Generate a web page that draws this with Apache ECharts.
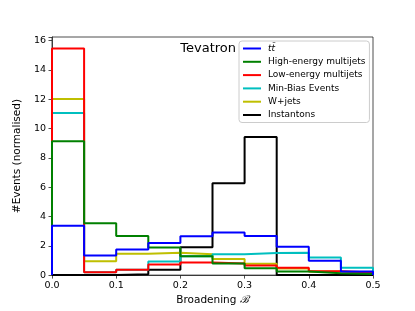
<!DOCTYPE html>
<html>
<head>
<meta charset="utf-8">
<script src="https://cdn.jsdelivr.net/npm/echarts@6/dist/echarts.min.js"></script>
<style>
html,body{margin:0;padding:0;background:#fff;}
#chart{width:415px;height:311px;}
</style>
</head>
<body>
<div id="chart"></div>
<script>
// Bin edges of the histogram (Broadening B)
const binEdges = [0.0, 0.05, 0.1, 0.15, 0.2, 0.25, 0.3, 0.35, 0.4, 0.45, 0.5];
// Series names (legend order)
const seriesNames = ['tt\u0304', 'High-energy multijets', 'Low-energy multijets', 'Min-Bias Events', 'W+jets', 'Instantons'];
// Normalised event counts per bin
const ttbar       = [3.37, 1.33, 1.75, 2.19, 2.65, 2.90, 2.67, 1.93, 0.98, 0.25];
const highEnergy  = [9.14, 3.54, 2.67, 1.88, 1.28, 0.80, 0.47, 0.24, 0.12, 0.08];
const lowEnergy   = [15.47, 0.20, 0.37, 0.72, 0.86, 0.80, 0.66, 0.50, 0.27, 0.18];
const minBias     = [11.07, 0.20, 0.37, 0.92, 1.28, 1.42, 1.50, 1.53, 1.20, 0.50];
const wJets       = [12.02, 0.94, 1.45, 1.53, 1.42, 1.10, 0.77, 0.45, 0.25, 0.15];
const instantons  = [0, 0, 0.05, 0.37, 1.90, 6.27, 9.43, 0, 0, 0];
// tick labels
const yTicks = [0, 2, 4, 6, 8, 10, 12, 14, 16];
const xTicks = [0.0, 0.1, 0.2, 0.3, 0.4, 0.5];

const colors = ['#0000ff', '#008000', '#ff0000', '#00bfbf', '#bfbf00', '#000000'];
const allValues = [ttbar, highEnergy, lowEnergy, minBias, wJets, instantons];

function stepData(vals) {
  const d = [[binEdges[0], 0]];
  vals.forEach((v, i) => d.push([binEdges[i], v]));
  const last = binEdges[binEdges.length - 1];
  d.push([last, vals[vals.length - 1]]);
  d.push([last, 0]);
  return d;
}

// draw in reverse legend order so that the first series sits on top
const series = [];
for (let i = allValues.length - 1; i >= 0; i--) {
  series.push({
    name: seriesNames[i],
    type: 'line',
    step: 'end',
    showSymbol: false,
    symbol: 'none',
    data: stepData(allValues[i]),
    lineStyle: { color: colors[i], width: 2 },
    itemStyle: { color: colors[i] },
    clip: true,
    animation: false
  });
}

const chart = echarts.init(document.getElementById('chart'), null, { renderer: 'canvas' });
chart.setOption({
  animation: false,
  backgroundColor: '#fff',
  textStyle: { fontFamily: 'DejaVu Sans' },
  grid: {
    left: 52, right: 42, top: 37, bottom: 35,
    show: true, borderColor: '#222', borderWidth: 0.8, backgroundColor: 'transparent'
  },
  xAxis: {
    type: 'value',
    min: xTicks[0], max: xTicks[xTicks.length - 1], interval: 0.1,
    name: 'Broadening {b|\u212C}',
    nameLocation: 'middle', nameGap: 14,
    nameTextStyle: {
      fontSize: 10.5, color: '#000', fontFamily: 'DejaVu Sans',
      rich: { b: { fontSize: 10.5, fontStyle: 'italic', fontFamily: 'DejaVu Serif', color: '#000' } }
    },
    axisLine: { show: true, lineStyle: { color: '#222', width: 0.8 } },
    axisTick: { show: true, length: 3.5, lineStyle: { color: '#222', width: 0.8 } },
    axisLabel: { fontSize: 9.5, color: '#000', margin: 5, formatter: v => v.toFixed(1) },
    splitLine: { show: false }
  },
  yAxis: {
    type: 'value',
    min: 0, max: 16.25, interval: 2,
    name: '#Events (normalised)',
    nameLocation: 'middle', nameGap: 21,
    nameTextStyle: { fontSize: 10.5, color: '#000', fontFamily: 'DejaVu Sans' },
    axisLine: { show: true, lineStyle: { color: '#222', width: 0.8 } },
    axisTick: { show: true, length: 3.5, lineStyle: { color: '#222', width: 0.8 } },
    axisLabel: {
      fontSize: 9.5, color: '#000', margin: 6,
      formatter: v => (yTicks.indexOf(v) >= 0 ? String(v) : '')
    },
    splitLine: { show: false }
  },
  legend: {
    data: seriesNames,
    orient: 'vertical',
    left: 239, top: 41,
    padding: [3, 4, 3, 4],
    itemGap: 4.3,
    itemWidth: 18, itemHeight: 2,
    icon: 'rect',
    borderColor: '#cccccc', borderWidth: 1, borderRadius: 3,
    backgroundColor: '#fff',
    formatter: name => (name === seriesNames[0] ? '{i|' + name + '}' : name),
    textStyle: {
      fontSize: 9, color: '#000', fontFamily: 'DejaVu Sans', padding: [0, 0, 0, 2],
      rich: { i: { fontStyle: 'italic', fontSize: 9, fontFamily: 'DejaVu Sans' } }
    }
  },
  graphic: [{
    type: 'text', x: 236, y: 48.5, z: 100,
    style: { text: 'Tevatron', align: 'right', verticalAlign: 'middle', font: '13px "DejaVu Sans"', fill: '#000' }
  }],
  series: series
});
</script>
</body>
</html>
